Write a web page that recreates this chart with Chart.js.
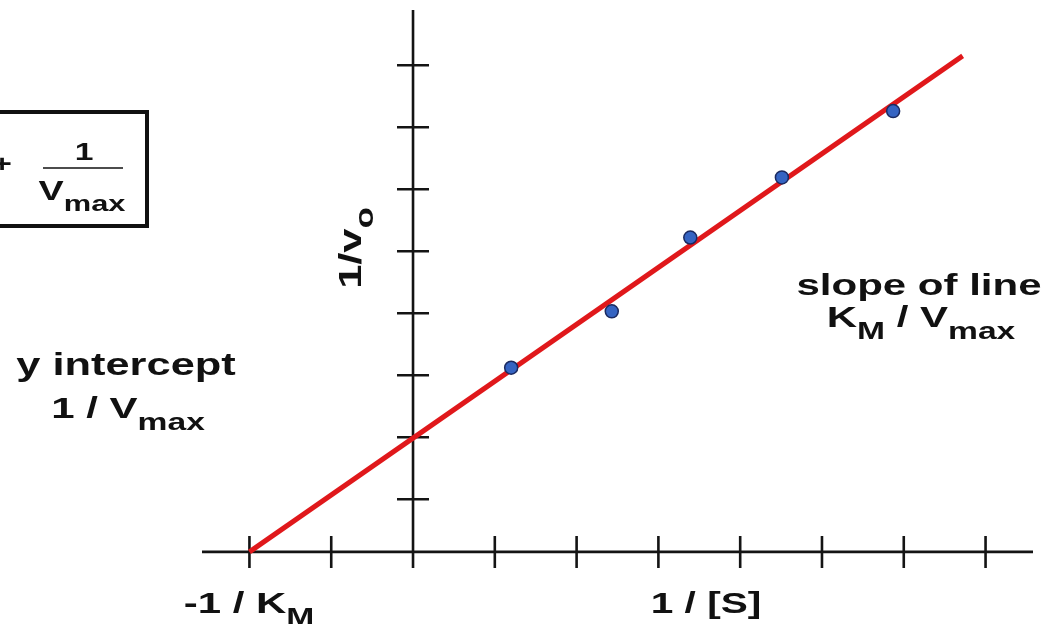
<!DOCTYPE html>
<html>
<head>
<meta charset="utf-8">
<script src="https://cdn.jsdelivr.net/npm/chart.js@4.4.1/dist/chart.umd.min.js"></script>
<style>
  body { margin: 0; background: #ffffff; }
  #wrap { width: 1050px; height: 624px; }
</style>
</head>
<body>
<div id="wrap"><canvas id="plot" width="1050" height="624"></canvas></div>
<script>
// Lineweaver-Burk plot, values in tick units
const xTicks = [-2, -1, 0, 1, 2, 3, 4, 5, 6, 7];
const yTicks = [0.85, 1.85, 2.85, 3.85, 4.85, 5.85, 6.85, 7.85];
const pointX = [1.2, 2.43, 3.39, 4.51, 5.87];
const pointY = [2.97, 3.88, 5.07, 6.04, 7.11];
const fitX = [-2, 6.72];
const fitY = [0, 8.0];

const FONT = '"Liberation Sans", Arial, sans-serif';
const SX = 1.4; // text in the source is stretched wide

// measure / draw text made of normal and subscript pieces
function richWidth(ctx, parts, size) {
    let w = 0;
    parts.forEach(p => {
        ctx.font = `bold ${p.sub ? Math.round(size * 0.8) : size}px ${FONT}`;
        w += ctx.measureText(p.t).width;
    });
    return w;
}

function drawRich(ctx, parts, x, y, size, opts = {}) {
    ctx.save();
    ctx.translate(x, y);
    if (opts.rotate) {
        // stretch along the page width only, so rotated text keeps its glyph width
        ctx.scale(1, SX);
        ctx.rotate(opts.rotate);
    } else {
        ctx.scale(SX, 1);
    }
    ctx.fillStyle = '#111';
    ctx.textBaseline = 'alphabetic';
    ctx.textAlign = 'left';
    let cx = -richWidth(ctx, parts, size) / 2;
    parts.forEach(p => {
        ctx.font = `bold ${p.sub ? Math.round(size * 0.8) : size}px ${FONT}`;
        ctx.fillText(p.t, cx, p.sub ? size * 0.4 : 0);
        cx += ctx.measureText(p.t).width;
    });
    ctx.restore();
}

const axesPlugin = {
    id: 'crossAxes',
    beforeDatasetsDraw(chart) {
        const ctx = chart.ctx;
        const xs = chart.scales.x, ys = chart.scales.y;
        const x0 = xs.getPixelForValue(0), y0 = ys.getPixelForValue(0);
        ctx.save();
        ctx.strokeStyle = '#141414';
        ctx.lineWidth = 2.6;
        ctx.beginPath();
        ctx.moveTo(xs.left, y0); ctx.lineTo(xs.right, y0);
        ctx.moveTo(x0, ys.top); ctx.lineTo(x0, ys.bottom);
        xTicks.forEach(v => {
            const px = xs.getPixelForValue(v);
            ctx.moveTo(px, y0 - 16); ctx.lineTo(px, y0 + 16);
        });
        yTicks.forEach(v => {
            const py = ys.getPixelForValue(v);
            ctx.moveTo(x0 - 16, py); ctx.lineTo(x0 + 16, py);
        });
        ctx.stroke();
        ctx.restore();
    },
    afterDraw(chart) {
        const ctx = chart.ctx;
        // equation box, left side runs off the picture
        ctx.save();
        ctx.strokeStyle = '#111';
        ctx.lineWidth = 4;
        ctx.strokeRect(-20, 112, 167, 114);
        ctx.lineWidth = 1.5;
        ctx.beginPath();
        ctx.moveTo(43, 168); ctx.lineTo(123, 168);
        ctx.stroke();
        ctx.restore();
        drawRich(ctx, [{ t: '+' }], 2, 172, 24);
        drawRich(ctx, [{ t: '1' }], 84, 160, 24);
        drawRich(ctx, [{ t: 'V' }, { t: 'max', sub: true }], 82, 200, 27);

        drawRich(ctx, [{ t: 'y intercept' }], 126, 375, 31);
        drawRich(ctx, [{ t: '1 / V' }, { t: 'max', sub: true }], 128, 418, 30);
        drawRich(ctx, [{ t: 'slope of line' }], 919, 295, 30);
        drawRich(ctx, [{ t: 'K' }, { t: 'M', sub: true }, { t: ' / V' }, { t: 'max', sub: true }], 921, 327, 30);
        drawRich(ctx, [{ t: '-1 / K' }, { t: 'M', sub: true }], 249, 613, 30);
        drawRich(ctx, [{ t: '1 / [S]' }], 706, 613, 29);
        drawRich(ctx, [{ t: '1/v' }, { t: 'o', sub: true }], 361, 248, 31, { rotate: -Math.PI / 2 });
    }
};

new Chart(document.getElementById('plot'), {
    type: 'scatter',
    data: {
        datasets: [
            {
                type: 'line',
                label: 'fit',
                data: fitX.map((x, i) => ({ x: x, y: fitY[i] })),
                borderColor: '#e0181b',
                borderWidth: 5,
                pointRadius: 0,
                fill: false,
                order: 2
            },
            {
                label: 'data',
                data: pointX.map((x, i) => ({ x: x, y: pointY[i] })),
                backgroundColor: '#3564c2',
                borderColor: '#1b2a60',
                borderWidth: 1.5,
                pointRadius: 6.5,
                order: 1
            }
        ]
    },
    options: {
        responsive: false,
        animation: false,
        layout: { padding: { left: 202, right: 17, top: 10, bottom: 56 } },
        plugins: { legend: { display: false }, tooltip: { enabled: false } },
        scales: {
            x: { type: 'linear', min: -2.58, max: 7.58, display: false },
            y: { type: 'linear', min: -0.26, max: 8.74, display: false }
        }
    },
    plugins: [axesPlugin]
});
</script>
</body>
</html>
